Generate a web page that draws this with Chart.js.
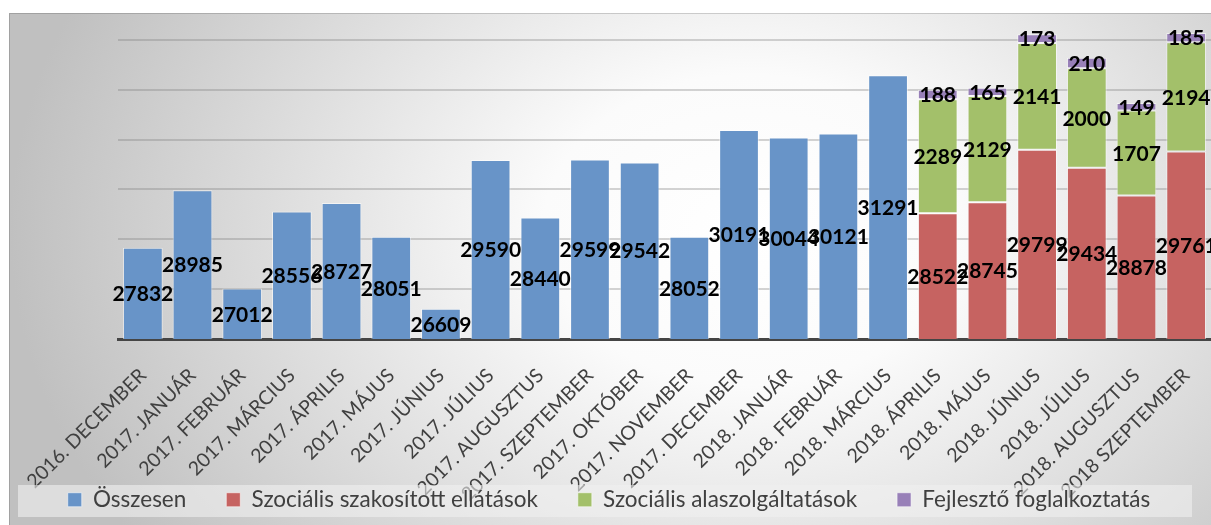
<!DOCTYPE html>
<html>
<head>
<meta charset="utf-8">
<script src="https://cdn.jsdelivr.net/npm/chart.js@4.4.1/dist/chart.umd.min.js"></script>
<style>
html,body{margin:0;padding:0;background:#fff;}
#wrap{width:1211px;height:525px;position:relative;}
</style>
</head>
<body>
<div id="wrap"><canvas id="c" width="1211" height="525"></canvas></div>
<script>
const categories = ["2016. DECEMBER","2017. JANUÁR","2017. FEBRUÁR","2017. MÁRCIUS","2017. ÁPRILIS","2017. MÁJUS","2017. JÚNIUS","2017. JÚLIUS","2017. AUGUSZTUS","2017. SZEPTEMBER","2017. OKTÓBER","2017. NOVEMBER","2017. DECEMBER","2018. JANUÁR","2018. FEBRUÁR","2018. MÁRCIUS","2018. ÁPRILIS","2018. MÁJUS","2018. JÚNIUS","2018. JÚLIUS","2018. AUGUSZTUS","2018 SZEPTEMBER"];
const osszesen = [27832,28985,27012,28556,28727,28051,26609,29590,28440,29599,29542,28052,30191,30044,30121,31291,null,null,null,null,null,null];
const szakositott = [null,null,null,null,null,null,null,null,null,null,null,null,null,null,null,null,28522,28745,29799,29434,28878,29761];
const alapszolg = [null,null,null,null,null,null,null,null,null,null,null,null,null,null,null,null,2289,2129,2141,2000,1707,2194];
const fejleszto = [null,null,null,null,null,null,null,null,null,null,null,null,null,null,null,null,188,165,173,210,149,185];
const seriesNames = ["Összesen","Szociális szakosított ellátások","Szociális alaszolgáltatások","Fejlesztő foglalkoztatás"];
const yMin = 26000, yMax = 32400, yStep = 1000;

const FONT = "Lato, 'Open Sans', sans-serif";

function drawLegendPanel(ctx) {
  ctx.save();
  ctx.fillStyle = 'rgba(240,240,240,0.6)';
  ctx.fillRect(18, 485, 1174, 32);
  ctx.restore();
}

const bgPlugin = {
  id: 'bg',
  beforeDraw(chart) {
    const ctx = chart.ctx, W = chart.width, H = chart.height;
    ctx.save();
    ctx.fillStyle = '#ffffff';
    ctx.fillRect(0, 0, W, H);
    ctx.save();
    ctx.beginPath();
    ctx.rect(9, 13, W - 9, H - 13);
    ctx.clip();
    const cx = 750, cy = 230;
    ctx.translate(cx, cy);
    ctx.scale(1, 0.75);
    const g = ctx.createRadialGradient(0, 0, 0, 0, 0, 740);
    g.addColorStop(0, '#ffffff');
    g.addColorStop(0.28, '#fbfbfb');
    g.addColorStop(1, '#c0c0c0');
    ctx.fillStyle = g;
    ctx.fillRect(-cx - 10, -cy / 0.75 - 10, W + 40, H / 0.75 + 40);
    ctx.restore();
    ctx.strokeStyle = 'rgba(0,0,0,0.16)';
    ctx.lineWidth = 1;
    ctx.beginPath();
    ctx.moveTo(9.5, H); ctx.lineTo(9.5, 13.5); ctx.lineTo(W, 13.5);
    ctx.stroke();
    ctx.restore();
  },
  afterLayout(chart) {
    const lg = chart.legend;
    if (lg) {
      lg.left = 0; lg.right = 1218; lg.width = 1218;
      if (!lg._panelWrapped) {
        const orig = lg.draw;
        lg.draw = function () { drawLegendPanel(chart.ctx); return orig.apply(this, arguments); };
        lg._panelWrapped = true;
      }
    }
    const x = chart.scales.x;
    x.bottom = chart.height; x.height = x.bottom - x.top;
  }
};

const labelPlugin = {
  id: 'vlabels',
  afterDatasetsDraw(chart) {
    const ctx = chart.ctx, area = chart.chartArea;
    ctx.save();
    ctx.font = "bold 21px " + FONT;
    ctx.fillStyle = '#000';
    ctx.textAlign = 'center';
    ctx.textBaseline = 'middle';
    chart.data.datasets.forEach((ds, i) => {
      const meta = chart.getDatasetMeta(i);
      for (let j = meta.data.length - 1; j >= 0; j--) {
        const v = ds.data[j];
        if (v === null || v === undefined) continue;
        const el = meta.data[j];
        const p = el.getProps(['x', 'y', 'base'], true);
        const top = Math.max(Math.min(p.y, p.base), area.top);
        const bot = Math.min(Math.max(p.y, p.base), area.bottom);
        ctx.fillText(String(v), p.x, (top + bot) / 2 + 1);
      }
    });
    ctx.restore();
  }
};

const borderCol = 'rgba(255,255,255,0.55)';
new Chart(document.getElementById('c'), {
  type: 'bar',
  data: {
    labels: categories,
    datasets: [
      {label: seriesNames[0], data: osszesen, backgroundColor: 'rgb(104,148,200)', borderColor: borderCol, borderWidth: 1, borderSkipped: false},
      {label: seriesNames[1], data: szakositott, backgroundColor: 'rgb(198,99,97)', borderColor: borderCol, borderWidth: 1, borderSkipped: false},
      {label: seriesNames[2], data: alapszolg, backgroundColor: 'rgb(163,192,106)', borderColor: borderCol, borderWidth: 1, borderSkipped: false},
      {label: seriesNames[3], data: fejleszto, backgroundColor: 'rgb(152,128,184)', borderColor: borderCol, borderWidth: 1, borderSkipped: false}
    ]
  },
  options: {
    responsive: false,
    animation: false,
    devicePixelRatio: 1,
    layout: {padding: {left: 0, right: 0, top: 20, bottom: 4}},
    datasets: {bar: {barPercentage: 0.8, categoryPercentage: 1.0, grouped: false}},
    scales: {
      x: {
        stacked: true,
        grid: {display: false, drawTicks: false},
        border: {display: true, color: '#454545', width: 3},
        ticks: {
          z: -1,
          autoSkip: false, minRotation: 45, maxRotation: 45, padding: 25,
          color: '#404040', font: {family: FONT, size: 19.5}
        },
        afterFit(s) { s.height = 109.5; s.paddingLeft = 0; s.paddingRight = 0; }
      },
      y: {
        stacked: true,
        min: yMin, max: yMax,
        afterBuildTicks(s) {
          const t = [];
          for (let v = yMin; v <= yMax; v += yStep) t.push({value: v});
          s.ticks = t;
        },
        grid: {color: 'rgba(120,120,120,0.32)', lineWidth: 2, drawTicks: false},
        border: {display: false},
        ticks: {display: false},
        afterFit(s) { s.width = 118; }
      }
    },
    plugins: {
      legend: {
        position: 'bottom',
        labels: {
          boxWidth: 14, boxHeight: 14, padding: 40,
          color: '#404040', font: {family: FONT, size: 22.5}
        }
      },
      tooltip: {enabled: false}
    }
  },
  plugins: [bgPlugin, labelPlugin]
});
</script>
</body>
</html>
